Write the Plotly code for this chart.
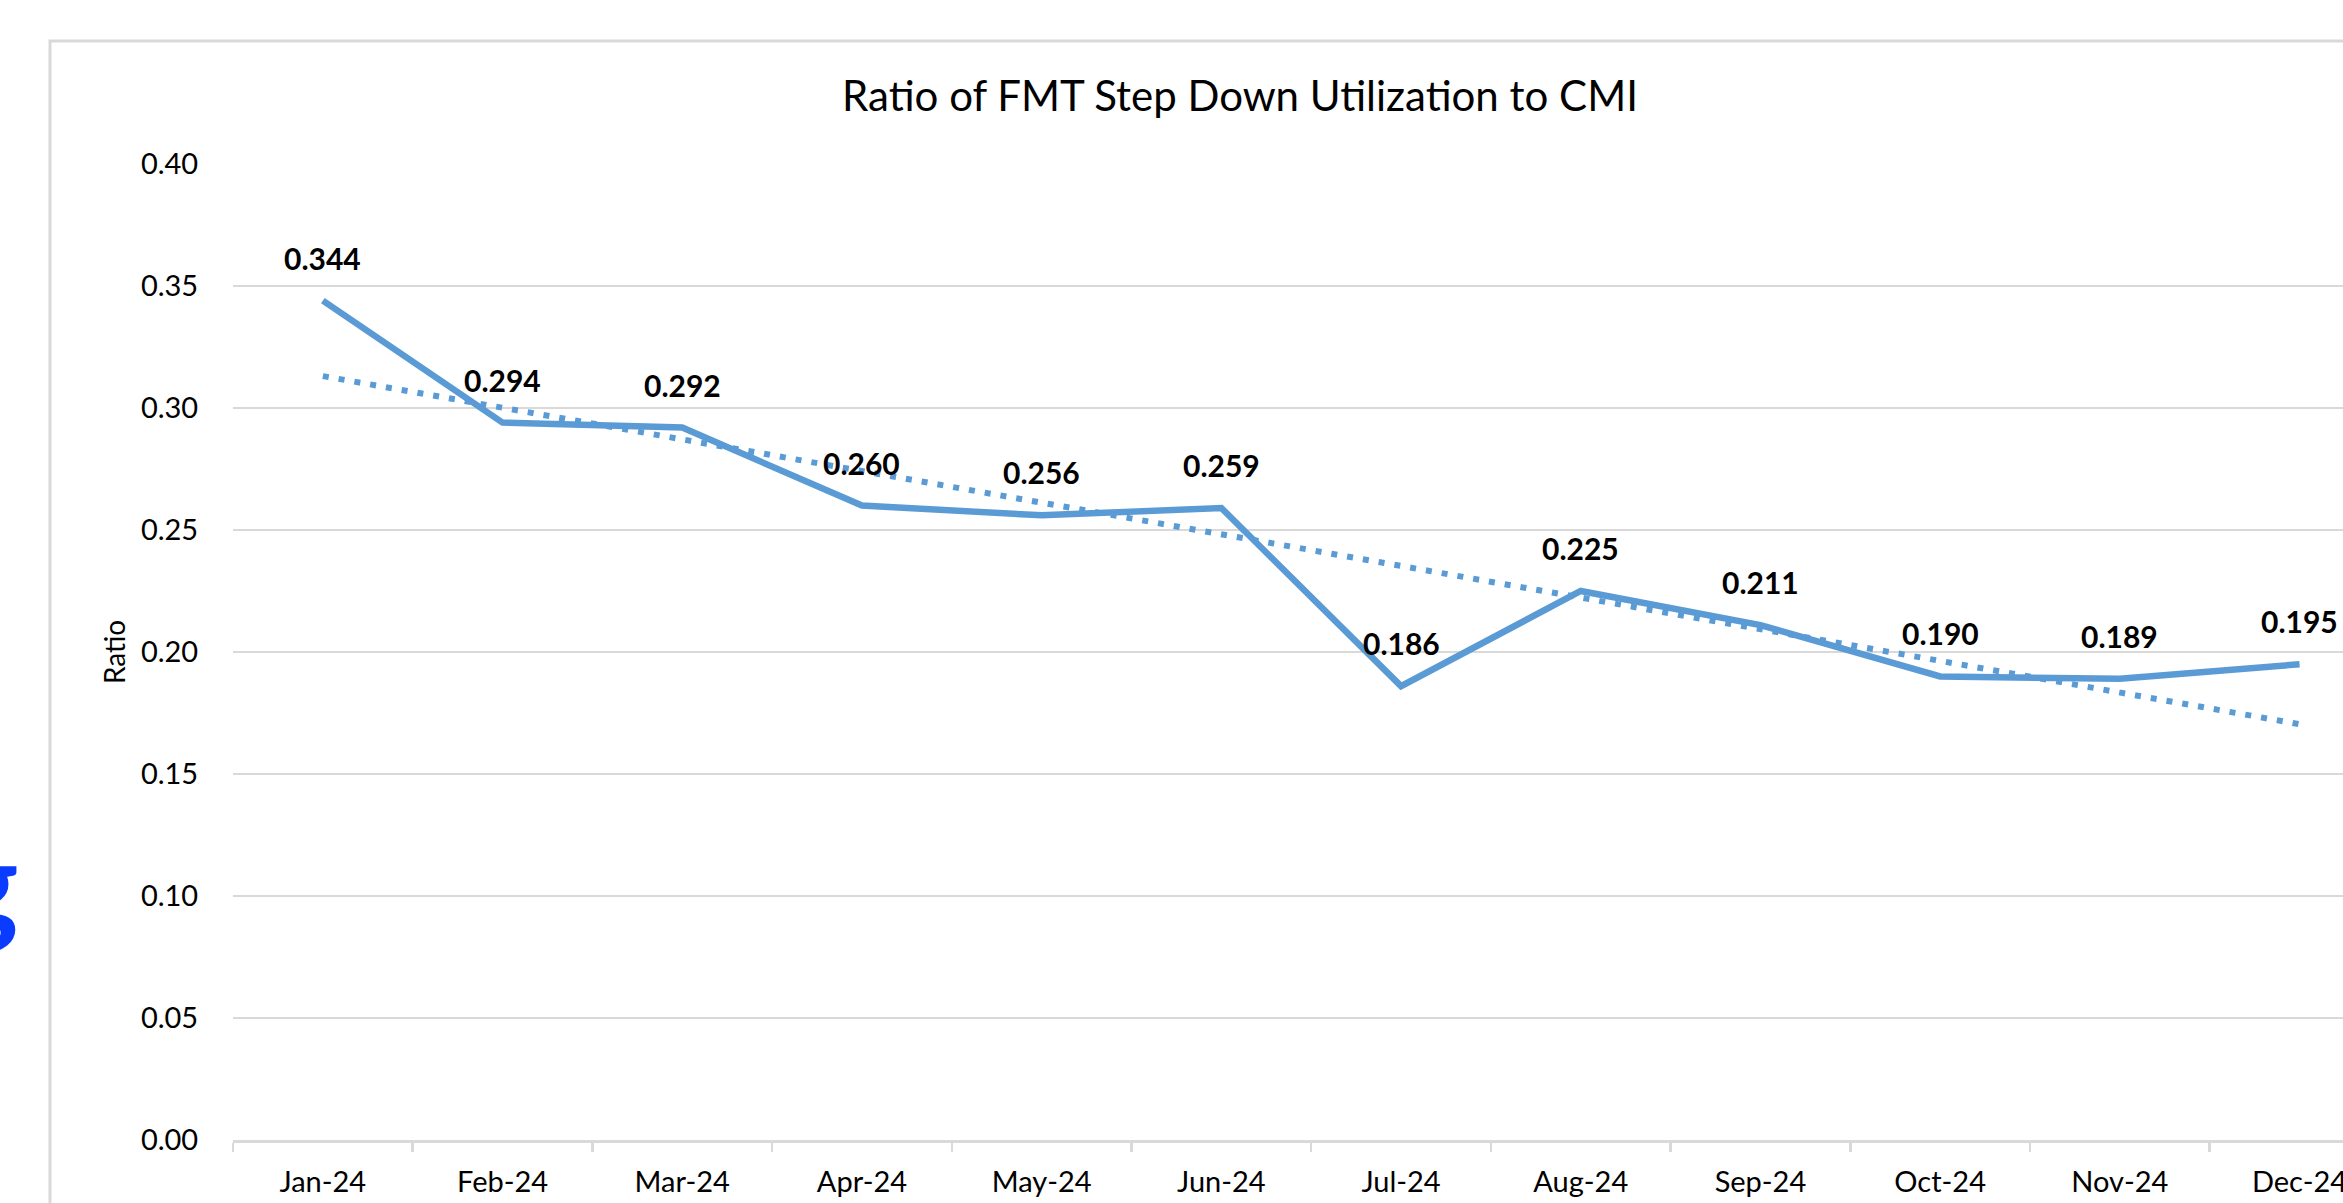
import numpy as np
import plotly.graph_objects as go

# ---- data ----
months = ["Jan-24", "Feb-24", "Mar-24", "Apr-24", "May-24", "Jun-24",
          "Jul-24", "Aug-24", "Sep-24", "Oct-24", "Nov-24", "Dec-24"]
ratios = [0.344, 0.294, 0.292, 0.260, 0.256, 0.259,
          0.186, 0.225, 0.211, 0.190, 0.189, 0.195]
y_tick_vals = [0.00, 0.05, 0.10, 0.15, 0.20, 0.25, 0.30, 0.35, 0.40]
title_text = "Ratio of FMT Step Down Utilization to CMI"
y_title = "Ratio"

# ---- layout geometry ----
W, H = 2343, 1203
L = 233
T = 164
AXIS_Y = 1140
B = H - AXIS_Y
PW = W - L
PH = AXIS_Y - T
CAT_W = 179.7
x_hi = -0.5 + PW / CAT_W

def px_x(p):
    return (p - L) / PW

def px_y(p):
    return (AXIS_Y - p) / PH

# linear trendline (least squares, as the spreadsheet trendline)
idx = np.arange(len(months))
slope, intercept = np.polyfit(idx, ratios, 1)
trend = intercept + slope * idx

BLUE = "#5b9bd5"
GRID = "#d9d9d9"
FONT = "Lato"

fig = go.Figure()
fig.add_trace(go.Scatter(
    x=months, y=list(trend), mode="lines",
    line=dict(color=BLUE, width=6, dash="6px,10px"),
    hoverinfo="skip", showlegend=False, cliponaxis=False,
))
fig.add_trace(go.Scatter(
    x=months, y=ratios, mode="lines",
    line=dict(color=BLUE, width=6.5),
    showlegend=False, cliponaxis=False,
))

annotations = []
for m, v in zip(months, ratios):
    annotations.append(dict(
        x=m, y=v, xref="x", yref="y", text="<b>%.3f</b>" % v,
        showarrow=False, yanchor="middle", xanchor="center", yshift=43,
        font=dict(family=FONT, size=30, color="#000000"),
    ))

# partial blue glyph at the far left edge of the page
annotations.append(dict(
    x=px_x(21), y=px_y(880), xref="paper", yref="paper",
    text="<b>g</b>", showarrow=False, xanchor="right", yanchor="middle",
    font=dict(family=FONT, size=128, color="#0a3cff"),
))

fig.update_layout(
    width=W, height=H,
    margin=dict(l=L, r=0, t=T, b=B, autoexpand=False),
    paper_bgcolor="white", plot_bgcolor="white",
    font=dict(family=FONT, size=29, color="#000000"),
    title=dict(text=title_text, x=1240 / W, xref="container", xanchor="center",
               y=1 - 96 / H, yref="container", yanchor="middle",
               font=dict(family=FONT, size=42, color="#000000")),
    annotations=annotations,
    shapes=[dict(type="rect", xref="paper", yref="paper",
                 x0=px_x(50), x1=1.05, y0=-0.2, y1=px_y(41),
                 line=dict(color=GRID, width=3), layer="below")],
    showlegend=False,
)

fig.update_xaxes(
    type="category", range=[-0.5, x_hi],
    showgrid=False, showline=True, linecolor=GRID, linewidth=2.5,
    ticks="outside", tickson="boundaries", ticklen=9, tickwidth=2.5, tickcolor=GRID,
    tickfont=dict(family=FONT, size=29, color="#000000"),
    ticklabelstandoff=15, zeroline=False, fixedrange=True,
)
fig.update_yaxes(
    range=[0, 0.40], tickvals=y_tick_vals, tickformat=".2f",
    showgrid=True, gridcolor=GRID, gridwidth=2.5,
    showline=False, zeroline=False,
    ticks="outside", ticklen=28, tickcolor="rgba(0,0,0,0)",
    tickfont=dict(family=FONT, size=29, color="#000000"),
    title=dict(text=y_title, standoff=7, font=dict(family=FONT, size=28, color="#000000")),
    fixedrange=True,
)

fig.write_html("out.html",
               config={"displayModeBar": False, "staticPlot": True},
               post_script="document.body.style.margin='0';document.body.style.overflow='hidden';")
